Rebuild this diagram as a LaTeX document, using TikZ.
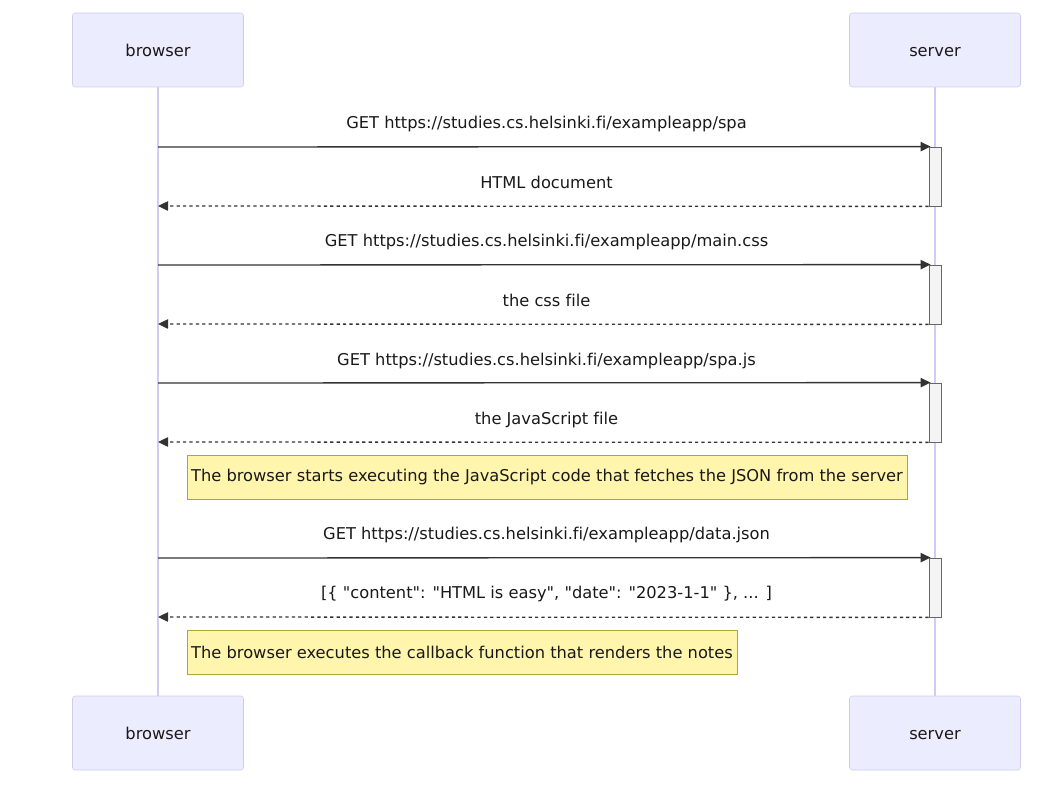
\documentclass[tikz,border=0pt]{standalone}
\usepackage{fontspec}
\newfontfamily\diagfont{DejaVu Sans}[Ligatures=NoCommon]
\usepackage{xcolor}
\usetikzlibrary{arrows.meta,positioning}

\definecolor{actorfill}{HTML}{ECECFF}
\definecolor{actorline}{HTML}{CFCBEF}
\definecolor{lifeline}{HTML}{D0CCF2}
\definecolor{notefill}{HTML}{FFF5AD}
\definecolor{noteline}{HTML}{AAAA33}
\definecolor{actfill}{HTML}{F4F4F4}
\definecolor{msgline}{HTML}{333333}

\tikzset{
  every node/.style={font=\diagfont\fontsize{12.2}{14}\selectfont, text=black!90},
  actor/.style={draw=actorline, fill=actorfill, rounded corners=2pt, minimum width=128.25pt, minimum height=55.5pt, text height=2.3ex, text depth=.2ex},
  life/.style={draw=lifeline, line width=1.1pt},
  actbox/.style={draw=black!60, fill=actfill, minimum width=9pt, minimum height=44.25pt, inner sep=0pt, line width=.6pt},
  req/.style={draw=msgline, line width=1pt, -{Triangle[length=7.5pt,width=7pt]}},
  resp/.style={draw=msgline, line width=1pt, dash pattern=on 2.4pt off 2.4pt, -{Triangle[length=7.5pt,width=7pt]}},
  msg/.style={inner sep=0pt, yshift=-1.2pt},
  notebox/.style={draw=noteline, fill=notefill, minimum height=33pt, inner sep=0pt}
}

\begin{document}
\begin{tikzpicture}[x=0.75pt,y=-0.75pt]
		\useasboundingbox (0,0) rectangle (1060,788);
		
		% actors
		\node[actor] (bTop) at (158,50) {browser};
		\node[actor] (sTop) at (935,50) {server};
		\node[actor] (bBot) at (158,733) {browser};
		\node[actor] (sBot) at (935,733) {server};
		\draw[life] (bTop.south) -- (bBot.north);
		\draw[life] (sTop.south) -- (sBot.north);
		
		% activations on the server
		\node[actbox] (act1) at (935,176.5) {};
		\node[actbox] (act2) at (935,294.5) {};
		\node[actbox] (act3) at (935,412.5) {};
		\node[actbox] (act4) at (935,587.5) {};
		
		% ends on the browser lifeline
		\coordinate (b1) at (158,147);
		\coordinate (b2) at (158,206);
		\coordinate (b3) at (158,265);
		\coordinate (b4) at (158,324);
		\coordinate (b5) at (158,383);
		\coordinate (b6) at (158,442);
		\coordinate (b7) at (158,558);
		\coordinate (b8) at (158,617);
		
		% spa
		\draw[req] (b1) -- ([xshift=1.5pt]act1.north west);
		\node[msg] at (546.5,122) {GET https://studies.cs.helsinki.fi/exampleapp/spa};
		\draw[resp] (act1.south west) -- (b2);
		\node[msg] at (546.5,181) {HTML document};
		
		% css
		\draw[req] (b3) -- ([xshift=1.5pt]act2.north west);
		\node[msg] at (546.5,240) {GET https://studies.cs.helsinki.fi/exampleapp/main.css};
		\draw[resp] (act2.south west) -- (b4);
		\node[msg] at (546.5,299) {the css file};
		
		% js
		\draw[req] (b5) -- ([xshift=1.5pt]act3.north west);
		\node[msg] at (546.5,359) {GET https://studies.cs.helsinki.fi/exampleapp/spa.js};
		\draw[resp] (act3.south west) -- (b6);
		\node[msg] at (546.5,418) {the JavaScript file};
		
		\node[notebox, minimum width=540pt] (note1) at (547,477) {The browser starts executing the JavaScript code that fetches the JSON from the server};
		
		% json
		\draw[req] (b7) -- ([xshift=1.5pt]act4.north west);
		\node[msg] at (546.5,533) {GET https://studies.cs.helsinki.fi/exampleapp/data.json};
		\draw[resp] (act4.south west) -- (b8);
		\node[msg] at (546.5,592) {[\{ "content": "HTML is easy", "date": "2023-1-1" \}, ... ]};
		
		\node[notebox, minimum width=412.5pt] (note2) at (462,652) {The browser executes the callback function that renders the notes};
\end{tikzpicture}
\end{document}
